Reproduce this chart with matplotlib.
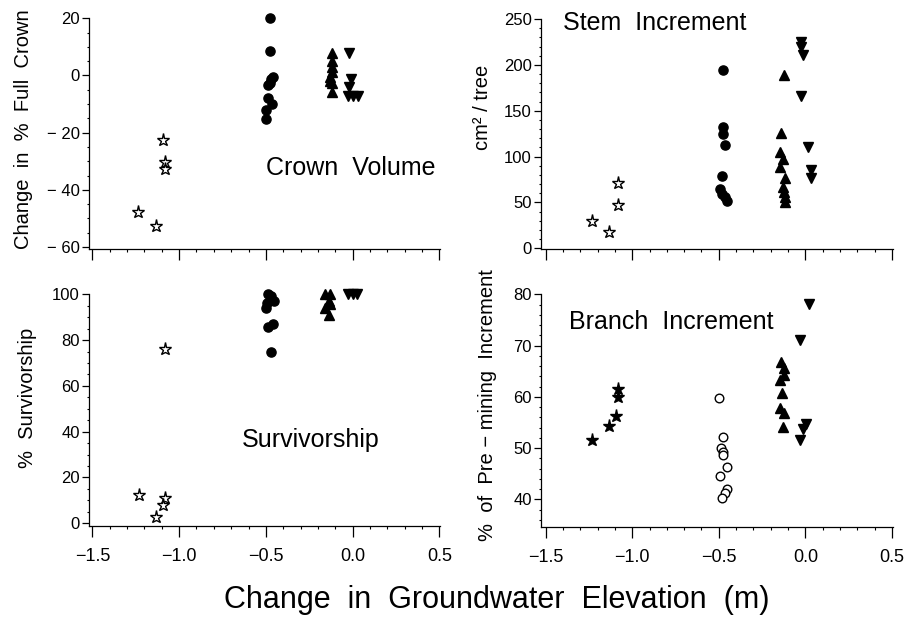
import matplotlib
matplotlib.use('Agg')
import matplotlib.pyplot as plt
from matplotlib.ticker import AutoMinorLocator, FixedLocator, FixedFormatter

# ---- data ----
x_ticks = [-1.5, -1.0, -0.5, 0.0, 0.5]
x_ticklabels = ['\u22121.5', '\u22121.0', '\u22120.5', '0.0', '0.5']

# crown volume (change in % full crown)
cv_star_x = [-1.095, -1.083, -1.083, -1.235, -1.134]
cv_star_y = [-22.6, -30.1, -32.8, -47.7, -52.8]
cv_circ_x = [-0.474, -0.474, -0.459, -0.468, -0.477, -0.487, -0.487, -0.464, -0.497, -0.499]
cv_circ_y = [20.0, 8.6, -0.5, -1.4, -2.6, -3.4, -8.0, -9.8, -11.9, -15.3]
cv_up_x = [-0.118, -0.118, -0.118, -0.122, -0.128, -0.132, -0.120, -0.120]
cv_up_y = [7.7, 5.0, 3.0, 1.2, -0.5, -1.8, -2.8, -5.8]
cv_down_x = [-0.021, -0.012, -0.022, -0.028, 0.001, 0.030]
cv_down_y = [7.9, -1.4, -4.2, -7.2, -7.2, -7.2]
cv_yticks = [-60, -40, -20, 0, 20]
cv_yticklabels = ['\u2212 60', '\u2212 40', '\u2212 20', '0', '20']

# stem increment (cm2 / tree)
si_star_x = [-1.085, -1.083, -1.234, -1.132]
si_star_y = [71.5, 47.2, 29.7, 17.4]
si_circ_x = [-0.474, -0.474, -0.474, -0.464, -0.479, -0.493, -0.483, -0.464, -0.450]
si_circ_y = [194.2, 132.5, 124.2, 112.5, 79.1, 64.6, 58.8, 56.2, 51.5]
si_up_x = [-0.121, -0.138, -0.147, -0.129, -0.147, -0.120, -0.129, -0.125, -0.120, -0.115]
si_up_y = [188.8, 125.9, 105.2, 97.0, 88.9, 76.9, 67.1, 61.7, 56.2, 50.8]
si_down_x = [-0.025, -0.025, -0.016, -0.023, 0.013, 0.032, 0.032]
si_down_y = [225.0, 219.6, 210.6, 166.2, 110.7, 85.3, 76.2]
si_yticks = [0, 50, 100, 150, 200, 250]
si_yticklabels = ['0', '50', '100', '150', '200', '250']

# survivorship (%)
sv_star_x = [-1.083, -1.229, -1.083, -1.090, -1.134]
sv_star_y = [76.1, 12.5, 10.9, 8.0, 2.7]
sv_circ_x = [-0.487, -0.472, -0.455, -0.495, -0.500, -0.459, -0.490, -0.468]
sv_circ_y = [100.0, 99.3, 97.2, 96.3, 94.2, 86.9, 85.9, 74.9]
sv_up_x = [-0.162, -0.128, -0.139, -0.158, -0.133, -0.139]
sv_up_y = [100.0, 100.0, 97.1, 94.1, 95.6, 91.0]
sv_down_x = [-0.028, 0.001, 0.026]
sv_down_y = [100.0, 100.0, 100.0]
sv_yticks = [0, 20, 40, 60, 80, 100]
sv_yticklabels = ['0', '20', '40', '60', '80', '100']

# branch increment (% of pre-mining increment)
bi_star_x = [-1.230, -1.132, -1.092, -1.081, -1.081]
bi_star_y = [51.6, 54.4, 56.3, 60.0, 61.5]
bi_circ_x = [-0.497, -0.477, -0.487, -0.477, -0.474, -0.454, -0.493, -0.454, -0.464, -0.483]
bi_circ_y = [59.7, 52.2, 50.0, 49.3, 48.6, 46.4, 44.5, 42.1, 41.2, 40.2]
bi_up_x = [-0.138, -0.124, -0.124, -0.149, -0.134, -0.144, -0.124, -0.130]
bi_up_y = [66.8, 65.6, 64.3, 63.3, 60.7, 57.8, 56.8, 54.2]
bi_down_x = [0.019, -0.029, 0.006, -0.015, -0.029]
bi_down_y = [78.1, 71.1, 54.8, 53.7, 51.6]
bi_yticks = [40, 50, 60, 70, 80]
bi_yticklabels = ['40', '50', '60', '70', '80']

SANS = ['Liberation Sans', 'DejaVu Sans']

fig = plt.figure(figsize=(9.14, 6.23), dpi=100)


def setup(ax, xlim, ylim, yticks, yticklabels, yminor, show_xlabels):
    ax.set_xlim(*xlim)
    ax.set_ylim(*ylim)
    for s in ['top', 'right']:
        ax.spines[s].set_visible(False)
    for s in ['left', 'bottom']:
        ax.spines[s].set_linewidth(0.9)
    ax.xaxis.set_major_locator(FixedLocator(x_ticks))
    ax.xaxis.set_minor_locator(AutoMinorLocator(5))
    ax.yaxis.set_major_locator(FixedLocator(yticks))
    ax.yaxis.set_major_formatter(FixedFormatter(yticklabels))
    ax.yaxis.set_minor_locator(AutoMinorLocator(yminor))
    ax.tick_params(axis='x', which='major', length=8, width=0.9, direction='out', pad=8)
    ax.tick_params(axis='x', which='minor', length=2.5, width=0.8, direction='out')
    ax.tick_params(axis='y', which='major', length=5, width=0.9, direction='out', pad=1.5)
    ax.tick_params(axis='y', which='minor', length=1.5, width=0.8, direction='out')
    for lab in ax.get_yticklabels():
        lab.set_family(SANS)
        lab.set_fontsize(12)
    if show_xlabels:
        ax.xaxis.set_major_formatter(FixedFormatter(x_ticklabels))
        for lab in ax.get_xticklabels():
            lab.set_family(SANS)
            lab.set_fontsize(13)
    else:
        ax.set_xticklabels([])


def draw(ax, sx, sy, cx, cy, ux, uy, dx, dy, filled_star=False, open_circ=False):
    kw = dict(linestyle='none', clip_on=False, zorder=3)
    if filled_star:
        ax.plot(sx, sy, marker='*', ms=9.5, color='black', **kw)
    else:
        ax.plot(sx, sy, marker='*', ms=9.5, mfc='white', mec='black', mew=1.0, **kw)
    if open_circ:
        ax.plot(cx, cy, marker='o', ms=6.2, mfc='white', mec='black', mew=1.0, **kw)
    else:
        ax.plot(cx, cy, marker='o', ms=6.6, color='black', **kw)
    ax.plot(ux, uy, marker='^', ms=7.3, color='black', **kw)
    ax.plot(dx, dy, marker='v', ms=7.3, color='black', **kw)


# top left: crown volume
ax1 = fig.add_axes([0.0974, 0.6003, 0.384, 0.3703])
setup(ax1, (-1.519, 0.503), (-60.7, 20.0), cv_yticks, cv_yticklabels, 4, False)
draw(ax1, cv_star_x, cv_star_y, cv_circ_x, cv_circ_y, cv_up_x, cv_up_y, cv_down_x, cv_down_y)
ax1.text(0.504, 0.349, 'Crown  Volume', transform=ax1.transAxes, ha='left', va='center',
         fontsize=18, family=SANS)
ax1.set_ylabel('Change  in  %  Full  Crown', fontsize=14.5, family=SANS)
ax1.yaxis.set_label_coords(-0.16, 0.52)

# top right: stem increment
ax2 = fig.add_axes([0.5919, 0.5998, 0.3851, 0.3697])
setup(ax2, (-1.527, 0.506), (-1.1, 250), si_yticks, si_yticklabels, 5, False)
draw(ax2, si_star_x, si_star_y, si_circ_x, si_circ_y, si_up_x, si_up_y, si_down_x, si_down_y)
ax2.text(0.062, 0.983, 'Stem  Increment', transform=ax2.transAxes, ha='left', va='center',
         fontsize=18, family=SANS)
ax2.set_ylabel('cm\u00b2 / tree', fontsize=14.5, family=SANS)
ax2.yaxis.set_label_coords(-0.139, 0.618)

# bottom left: survivorship
ax3 = fig.add_axes([0.0974, 0.1557, 0.384, 0.3719])
setup(ax3, (-1.519, 0.503), (-1.2, 100), sv_yticks, sv_yticklabels, 4, True)
draw(ax3, sv_star_x, sv_star_y, sv_circ_x, sv_circ_y, sv_up_x, sv_up_y, sv_down_x, sv_down_y)
ax3.text(0.436, 0.371, 'Survivorship', transform=ax3.transAxes, ha='left', va='center',
         fontsize=18, family=SANS)
ax3.set_ylabel('%  Survivorship', fontsize=14.5, family=SANS)
ax3.yaxis.set_label_coords(-0.148, 0.555)

# bottom right: branch increment
ax4 = fig.add_axes([0.5919, 0.1546, 0.3851, 0.373])
setup(ax4, (-1.527, 0.506), (34.7, 80), bi_yticks, bi_yticklabels, 5, True)
draw(ax4, bi_star_x, bi_star_y, bi_circ_x, bi_circ_y, bi_up_x, bi_up_y, bi_down_x, bi_down_y,
     filled_star=True, open_circ=True)
ax4.text(0.08, 0.881, 'Branch  Increment', transform=ax4.transAxes, ha='left', va='center',
         fontsize=18, family=SANS)
ax4.set_ylabel('%  of  Pre \u2212 mining  Increment', fontsize=14.5, family=SANS)
ax4.yaxis.set_label_coords(-0.125, 0.524)

fig.text(0.543, 0.037, 'Change  in  Groundwater  Elevation  (m)', ha='center', va='center',
         fontsize=22, family=SANS)

fig.savefig('out.png', dpi=100)
